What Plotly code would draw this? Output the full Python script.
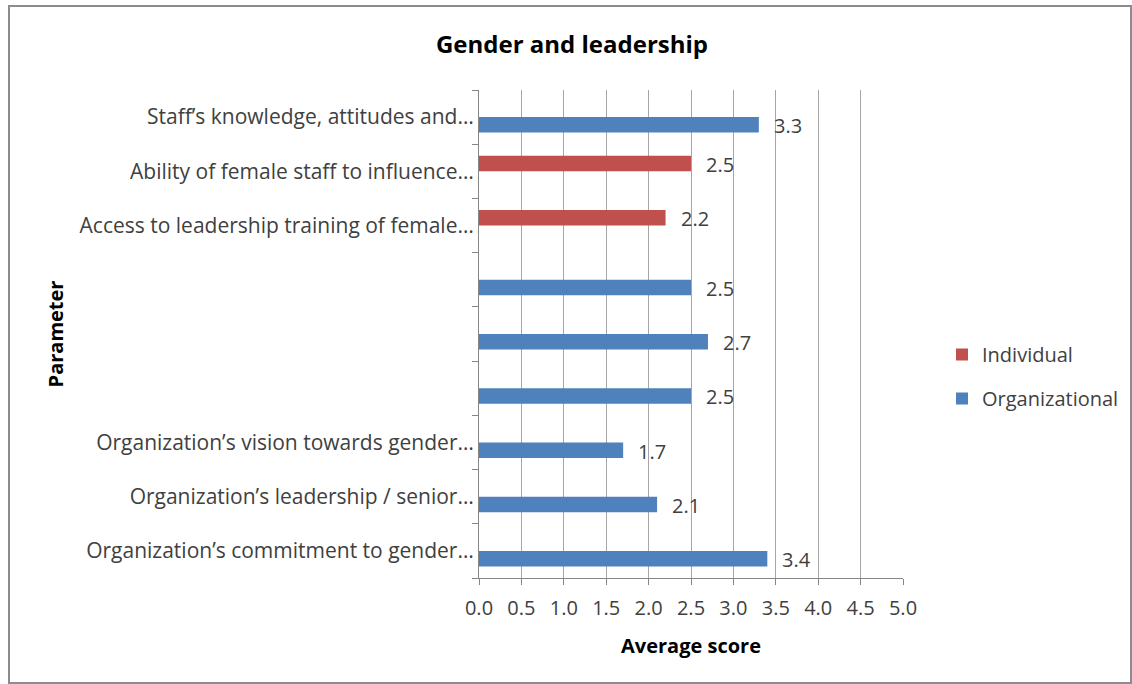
import plotly.graph_objects as go

# Categories listed bottom to top; three parameters have no visible label
categories = [
    "Organization’s commitment to gender…",
    "Organization’s leadership / senior…",
    "Organization’s vision towards gender…",
    " ",
    "  ",
    "   ",
    "Access to leadership training of female…",
    "Ability of female staff to influence…",
    "Staff’s knowledge, attitudes and…",
]
organizational = [3.4, 2.1, 1.7, 2.5, 2.7, 2.5, None, None, 3.3]
individual = [None, None, None, None, None, None, 2.2, 2.5, None]
x_ticks = [0.0, 0.5, 1.0, 1.5, 2.0, 2.5, 3.0, 3.5, 4.0, 4.5, 5.0]

BLUE = "#4F81BD"
RED = "#C0504D"
FONT = "'Open Sans', Lato, sans-serif"
TXT = "#404040"
FS = 20

W, H = 1132, 684
PL, PR, PT, PB = 479, 903, 90, 578  # plot area edges in pixels

fig = go.Figure()
fig.add_trace(go.Bar(
    name="Organizational", y=categories, x=organizational, orientation="h",
    marker=dict(color=BLUE, line=dict(width=0)), legendgroup="org", legendrank=2,
))
fig.add_trace(go.Bar(
    name="Individual", y=categories, x=individual, orientation="h",
    marker=dict(color=RED, line=dict(width=0)), legendgroup="ind", legendrank=1,
))

# value labels just past the end of each bar
slot = (PB - PT) / len(categories)
half = slot * (1 - 0.428) / 4
annotations = []
for series, shift in ((organizational, -half), (individual, half)):
    for cat, v in zip(categories, series):
        if v is None:
            continue
        annotations.append(dict(
            x=v, y=cat, xref="x", yref="y", text=f"{v:.1f}", showarrow=False,
            xanchor="left", yanchor="middle", xshift=13, yshift=shift - 1,
            font=dict(family=FONT, size=FS, color=TXT),
        ))

# helpers converting pixel positions to paper coordinates
pw, ph = PR - PL, PB - PT
def px_x(p):
    return (p - PL) / pw
def px_y(p):
    return (PB - p) / ph

fig.update_layout(
    width=W, height=H,
    margin=dict(l=PL, r=W - PR, t=PT, b=H - PB, pad=0, autoexpand=False),
    paper_bgcolor="white", plot_bgcolor="white",
    barmode="group", bargap=0.428, bargroupgap=0,
    title=dict(text="<b>Gender and leadership</b>", x=572 / W, xref="container",
               xanchor="center", y=1 - 45 / H, yanchor="middle",
               font=dict(family=FONT, size=24, color="#000000")),
    font=dict(family=FONT, size=FS, color=TXT),
    showlegend=True,
    legend=dict(x=px_x(942), y=px_y(335), xanchor="left", yanchor="top",
                traceorder="grouped", tracegroupgap=15,
                font=dict(family=FONT, size=FS, color=TXT),
                bgcolor="rgba(0,0,0,0)", itemwidth=30),
    xaxis=dict(
        range=[0, 5], tickvals=x_ticks, ticktext=[f"{t:.1f}" for t in x_ticks],
        showgrid=True, gridcolor="#A6A6A6", gridwidth=1,
        showline=True, linecolor="#868686", linewidth=1,
        ticks="outside", ticklen=6, tickcolor="#868686", ticklabelstandoff=6,
        tickfont=dict(family=FONT, size=FS, color=TXT),
        zeroline=False, automargin=False,
        title=dict(text="<b>Average score</b>", standoff=18,
                   font=dict(family=FONT, size=FS, color="#000000")),
    ),
    yaxis=dict(
        type="category", categoryorder="array", categoryarray=categories,
        showgrid=False, showline=True, linecolor="#868686", linewidth=1,
        ticks="outside", ticklen=6, tickcolor="#868686", tickson="boundaries",
        tickfont=dict(family=FONT, size=21, color=TXT),
        title=dict(text="<b>Parameter</b>", standoff=10,
                   font=dict(family=FONT, size=FS, color="#000000")),
        automargin=False,
    ),
    annotations=annotations,
    # outer chart frame
    shapes=[dict(type="rect", xref="paper", yref="paper",
                 x0=px_x(9), x1=px_x(1131), y0=px_y(683), y1=px_y(6),
                 line=dict(color="#8C8C8C", width=2), layer="below")],
)

fig.write_html("out.html")
